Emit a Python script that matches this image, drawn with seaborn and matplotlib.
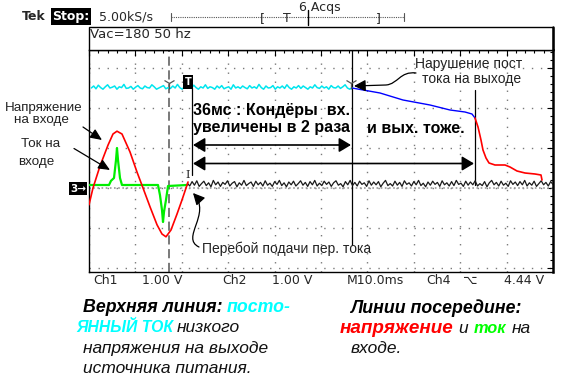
import numpy as np
import matplotlib
matplotlib.use("Agg")
import matplotlib.pyplot as plt
import seaborn as sns
from matplotlib.path import Path
from matplotlib.patches import FancyArrowPatch, Rectangle
from matplotlib.ticker import MultipleLocator

# Values.
# time in ms (10 ms/div), level in divisions above the ch3 ground marker
red_in_t = [0.0, 0.86, 2.37, 4.09, 5.17, 6.03, 7.11, 8.84, 10.34, 11.64, 13.15,
            14.66, 15.73, 16.59, 17.67, 18.97, 20.04, 20.91, 21.34]
red_in_v = [-0.42, 0.0, 0.55, 1.07, 1.35, 1.42, 1.35, 0.9, 0.4, 0.0, -0.47,
            -0.92, -1.15, -1.22, -1.05, -0.65, -0.3, 0.0, 0.15]

green_t = [0.0, 4.31, 4.74, 5.39, 5.82, 6.03, 6.25, 6.68, 7.11, 14.87, 15.3,
           15.73, 15.95, 16.16, 16.59, 17.03, 21.12]
green_i = [0.075, 0.075, 0.18, 0.25, 0.7, 1.0, 0.7, 0.25, 0.075, 0.075, -0.18,
           -0.55, -0.85, -0.6, -0.3, 0.05, 0.075]

blue_t = [56.68, 62.72, 67.67, 73.49, 77.8, 81.03, 82.54, 83.19]
blue_v = [2.5, 2.375, 2.2, 2.075, 1.95, 1.9, 1.85, 1.75]

red_out_t = [83.19, 83.84, 84.48, 84.91, 85.56, 86.21, 87.5, 89.66, 90.73,
             92.24, 93.97, 96.12, 97.41, 97.63]
red_out_v = [1.75, 1.525, 1.2, 0.95, 0.75, 0.625, 0.575, 0.575, 0.525,
             0.425, 0.375, 0.35, 0.325, 0.2]

# noisy traces: level plus fuzz (hundredths of a division), 0.5 ms samples
cyan_start, cyan_end, cyan_level = 0.5, 56.7, 2.5
cyan_fuzz = [0, 5, -2, 7, 1, -3, 3, 8, 0, 2, 5, -3, 3, 1, 9, -1, 0, 4, -3, 2,
             6, 0, -2, 5, 1, 0, 8, 3, -3, 0, 3, 6, -2, 1, -1, 5, 0, 9, 1, -3,
             3, 0, 5, -1, 7, 1, -3, 3, 0, 8, -1, 3, 1, -3, 5, 0, 6, -2, 1, 3,
             -3, 8, 0, 3, -1, 5, 1, -2, 6, 0, 3, -1, 9, 1, -3, 5, 0, 1, 6, -3,
             3, 0, 5, -1, 8, 1, -3, 3, 0, 6, -1, 5, 1, -3, 3, 0, 8, 1, -1, 5,
             0, 3, -3, 6, 1, 0, 5, -1, 3, 8, 0, -3, 1]

black_start, black_end, black_level = 21.2, 100.0, 0.1
black_fuzz = [2, -5, 6, -3, 8, -6, 1, 7, -4, 3, -7, 9, -2, 5, -6, 4, -1, 8, -5, 2,
              6, -7, 3, -3, 9, -4, 1, 5, -6, 7, -2, 4, -5, 8, -3, 2, -6, 6, -1, 9,
              -4, 3, -7, 5, -2, 7, -5, 1, 8, -3, 4, -6, 6, -2, 9, -5, 2, -4, 7, -1,
              5, -6, 3, 8, -3, 1, -7, 6, -2, 9, -4, 4, -5, 7, -1, 3, -6, 8, -3, 5,
              -2, 6, -7, 2, 9, -4, 1, -5, 7, -3, 4, -6, 8, -1, 3, -5, 6, -2, 9, -4,
              2, -7, 5, -3, 7, -1, 4, -6, 8, -2, 3, -5, 6, -4, 9, -1, 2, -6, 7, -3,
              5, -2, 8, -5, 1, -4, 6, -7, 3, 9, -2, 4, -5, 7, -3, 2, -6, 8, -1, 5,
              -4, 6, -2, 9, -5, 3, -3, 7, -6, 1, 8, -2, 4, -5, 6, -1]

# cursor / marker positions (ms)
cursor_dash_ms = 17.2
cursor_a_ms, cursor_a_span = 56.68, (-1.43, 3.45)
cursor_b_ms, cursor_b_span = 22.26, (0.33, 2.5)
cursor_c_ms, cursor_c_span = 83.1, (0.08, 2.45)

sns.set_style("white")
plt.rcParams['font.family'] = ['DejaVu Sans']

W, H = 567, 382
fig = plt.figure(figsize=(W / 100, H / 100), dpi=100)


def px_box(x0, y0, x1, y1):
    return [x0 / W, 1 - y1 / H, (x1 - x0) / W, (y1 - y0) / H]


ax = fig.add_axes(px_box(89, 50, 553, 272))
ax.set_xlim(0, 100)
ax.set_ylim(-2.1, 3.45)
ax.set_xticks(range(0, 101, 10))
ax.set_yticks([-2, -1, 0, 1, 2, 3])
ax.xaxis.set_minor_locator(MultipleLocator(2))
ax.yaxis.set_minor_locator(MultipleLocator(0.2))
ax.grid(True, which='major', color='#7a7a7a', linestyle=(0, (1, 5.5)), linewidth=1)
ax.tick_params(which='both', direction='in', top=True, right=True,
               labelbottom=False, labelleft=False, color='black', width=0.8)
ax.tick_params(which='major', length=4)
ax.tick_params(which='minor', length=2.5)
for s in ax.spines.values():
    s.set_color('black')
    s.set_linewidth(1)
ax.spines['right'].set_linewidth(1.8)
ax.set_axisbelow(True)

# ground line of ch3 drawn a bit stronger
ax.axhline(0, color='#9a9a9a', linestyle=(0, (1, 1.5)), linewidth=1.2, zorder=1)

cyan_t = np.linspace(cyan_start, cyan_end, len(cyan_fuzz))
cyan_v = cyan_level + np.array(cyan_fuzz) / 100
black_t = np.linspace(black_start, black_end, len(black_fuzz))
black_v = black_level + np.array(black_fuzz) / 100

sns.lineplot(x=black_t, y=black_v, ax=ax, color='#1a1a1a', linewidth=0.9,
             estimator=None, sort=False, zorder=3)
sns.lineplot(x=cyan_t, y=cyan_v, ax=ax, color='#00e5ee', linewidth=1.1,
             estimator=None, sort=False, zorder=3)
sns.lineplot(x=blue_t, y=blue_v, ax=ax, color='#0000ff', linewidth=1.0,
             estimator=None, sort=False, zorder=3)
sns.lineplot(x=red_out_t, y=red_out_v, ax=ax, color='#ff0000', linewidth=1.2,
             estimator=None, sort=False, zorder=3)
sns.lineplot(x=green_t, y=green_i, ax=ax, color='#00ee00', linewidth=1.6,
             estimator=None, sort=False, zorder=4)
sns.lineplot(x=red_in_t, y=red_in_v, ax=ax, color='#ff0000', linewidth=1.2,
             estimator=None, sort=False, zorder=5)

ax.axvline(cursor_dash_ms, color='#555555', linestyle=(0, (6, 3)), linewidth=1.1, zorder=2)
ax.plot([cursor_a_ms] * 2, cursor_a_span, color='black', linewidth=0.9, zorder=2)
ax.plot([cursor_b_ms] * 2, cursor_b_span, color='black', linewidth=0.9, zorder=2)
ax.plot([cursor_c_ms] * 2, cursor_c_span, color='black', linewidth=0.9, zorder=2)

# overlay in pixel coordinates for the screen chrome and the notes
ov = fig.add_axes([0, 0, 1, 1], zorder=10)
ov.set_xlim(0, W)
ov.set_ylim(H, 0)
ov.axis('off')
ov.patch.set_alpha(0)

mono = dict(family='DejaVu Sans', fontsize=9, va='baseline')
ov.text(21.5, 20, 'Tek', fontweight='bold', **mono)
ov.text(52.5, 20, 'Stop:', color='white', fontweight='bold',
        bbox=dict(facecolor='black', edgecolor='none', pad=1.2), **mono)
ov.text(99, 20, '5.00kS/s', **mono)
ov.text(320, 10.5, '6 Acqs', ha='center', **mono)
ov.plot([171, 404], [17, 17], color='#555555', linestyle=(0, (1, 1)), linewidth=0.8)
ov.plot([171, 171], [13, 21], color='#555555', linewidth=0.8)
ov.plot([404, 404], [13, 21], color='#555555', linewidth=0.8)
ov.plot([308, 308], [10, 25], color='black', linewidth=1)
ov.text(262, 22, '[', ha='center', **mono)
ov.text(287, 21.5, 'T', ha='center', **mono)
ov.text(378, 22, ']', ha='center', **mono)

ov.add_patch(Rectangle((89, 27), 464, 23, facecolor='white', edgecolor='black', linewidth=1))
ov.plot([553, 553], [27, 50], color='black', linewidth=1.8)
ov.text(90, 37.5, 'Vac=180 50 hz', family='DejaVu Sans', fontsize=9.5, va='baseline')

for x, s in [(93, 'Ch1'), (141.5, '1.00 V'), (222, 'Ch2'), (272, '1.00 V'),
             (346.5, 'M10.0ms'), (426.5, 'Ch4'), (463, '\u2325'), (504, '4.44 V')]:
    ov.text(x, 283.5, s, **mono)

ov.text(78, 188.5, '3\u2192', color='white', fontweight='bold', fontsize=7.5,
        ha='center', va='center', bbox=dict(facecolor='black', edgecolor='none', pad=1))
ov.text(188, 82, 'T', color='white', fontweight='bold', fontsize=7,
        ha='center', va='center', bbox=dict(facecolor='black', edgecolor='none', pad=1.2))
ov.text(188, 175, 'I', family='DejaVu Serif', fontsize=8, ha='center', va='center')
ov.plot([169, 351], [83, 83], linestyle='none', marker='1', markersize=9,
        color='#555555', markeredgewidth=0.9)

note = dict(family='Liberation Sans', color='#222222', va='baseline')
ov.text(43.3, 110.7, 'Напряжение', ha='center', fontsize=9.6, **note)
ov.text(41.7, 122.7, 'на входе', ha='center', fontsize=9.6, **note)
ov.text(40.5, 147.3, 'Ток на', ha='center', fontsize=9.6, **note)
ov.text(36.5, 165, 'входе', ha='center', fontsize=9.6, **note)
ov.text(415, 68.3, 'Нарушение пост', fontsize=10, **note)
ov.text(421.7, 83.3, 'тока на выходе', fontsize=10, **note)
ov.text(201.7, 252.7, 'Перебой подачи пер. тока', fontsize=10, **note)

bold = dict(family='Liberation Sans', fontweight='bold', fontsize=11.5, va='baseline', color='black')
ov.text(193.3, 115, '36мс : Кондёры  вх.', **bold)
ov.text(193.3, 131.7, 'увеличены в 2 раза', **bold)
ov.text(367, 133, 'и вых. тоже.', **bold)

arr = dict(arrowstyle='<|-|>,head_length=0.45,head_width=0.27', mutation_scale=16,
           lw=1.2, color='black', shrinkA=0, shrinkB=0)
ov.annotate('', xy=(351, 145), xytext=(193, 145), arrowprops=arr)
ov.annotate('', xy=(474, 163.5), xytext=(193, 163.5), arrowprops=arr)

small = dict(arrowstyle='-|>,head_length=0.5,head_width=0.22', mutation_scale=14,
             lw=0.9, color='black', shrinkA=0, shrinkB=0)
ov.annotate('', xy=(102, 140), xytext=(83, 127), arrowprops=small)
ov.annotate('', xy=(110, 170), xytext=(74, 148.5), arrowprops=small)

p1 = Path([(416, 73), (400, 71), (398, 84), (386, 85), (354, 86)],
          [Path.MOVETO, Path.CURVE4, Path.CURVE4, Path.CURVE4, Path.LINETO])
ov.add_patch(FancyArrowPatch(path=p1, arrowstyle='-|>,head_length=0.5,head_width=0.25',
                             mutation_scale=14, lw=0.9, color='black'))
p2 = Path([(199, 247), (180, 238), (212, 214), (193, 193)],
          [Path.MOVETO, Path.CURVE4, Path.CURVE4, Path.CURVE4])
ov.add_patch(FancyArrowPatch(path=p2, arrowstyle='-|>,head_length=0.5,head_width=0.25',
                             mutation_scale=14, lw=0.9, color='black'))

bi = dict(family='Liberation Sans', fontweight='bold', style='italic', va='baseline')
it = dict(family='Liberation Sans', style='italic', fontsize=12.5, va='baseline', color='#111111')
ov.text(82.7, 311.7, 'Верхняя линия:', color='black', fontsize=12.8, **bi)
ov.text(226.7, 311.7, 'посто-', color='#00ffff', fontsize=12.8, **bi)
ov.text(76, 331.7, 'ЯННЫЙ ТОК', color='#00ffff', fontsize=11.3, **bi)
ov.text(177, 331.7, 'низкого', **it)
ov.text(83.3, 353.3, 'напряжения на выходе', **it)
ov.text(83.3, 373.3, 'источника питания.', **it)
ov.text(350, 313.3, 'Линии посередине:', color='black', fontsize=12.8, **bi)
ov.text(339.3, 333.3, 'напряжение', color='#ff0000', fontsize=13.6, **bi)
ov.text(458, 333.3, 'и', **it)
ov.text(474, 333.3, 'ток', color='#00ff00', fontsize=11.8, **bi)
ov.text(512, 333.3, 'на', **it)
ov.text(350.7, 353.3, 'входе.', **it)

fig.savefig('out.png', dpi=100)
